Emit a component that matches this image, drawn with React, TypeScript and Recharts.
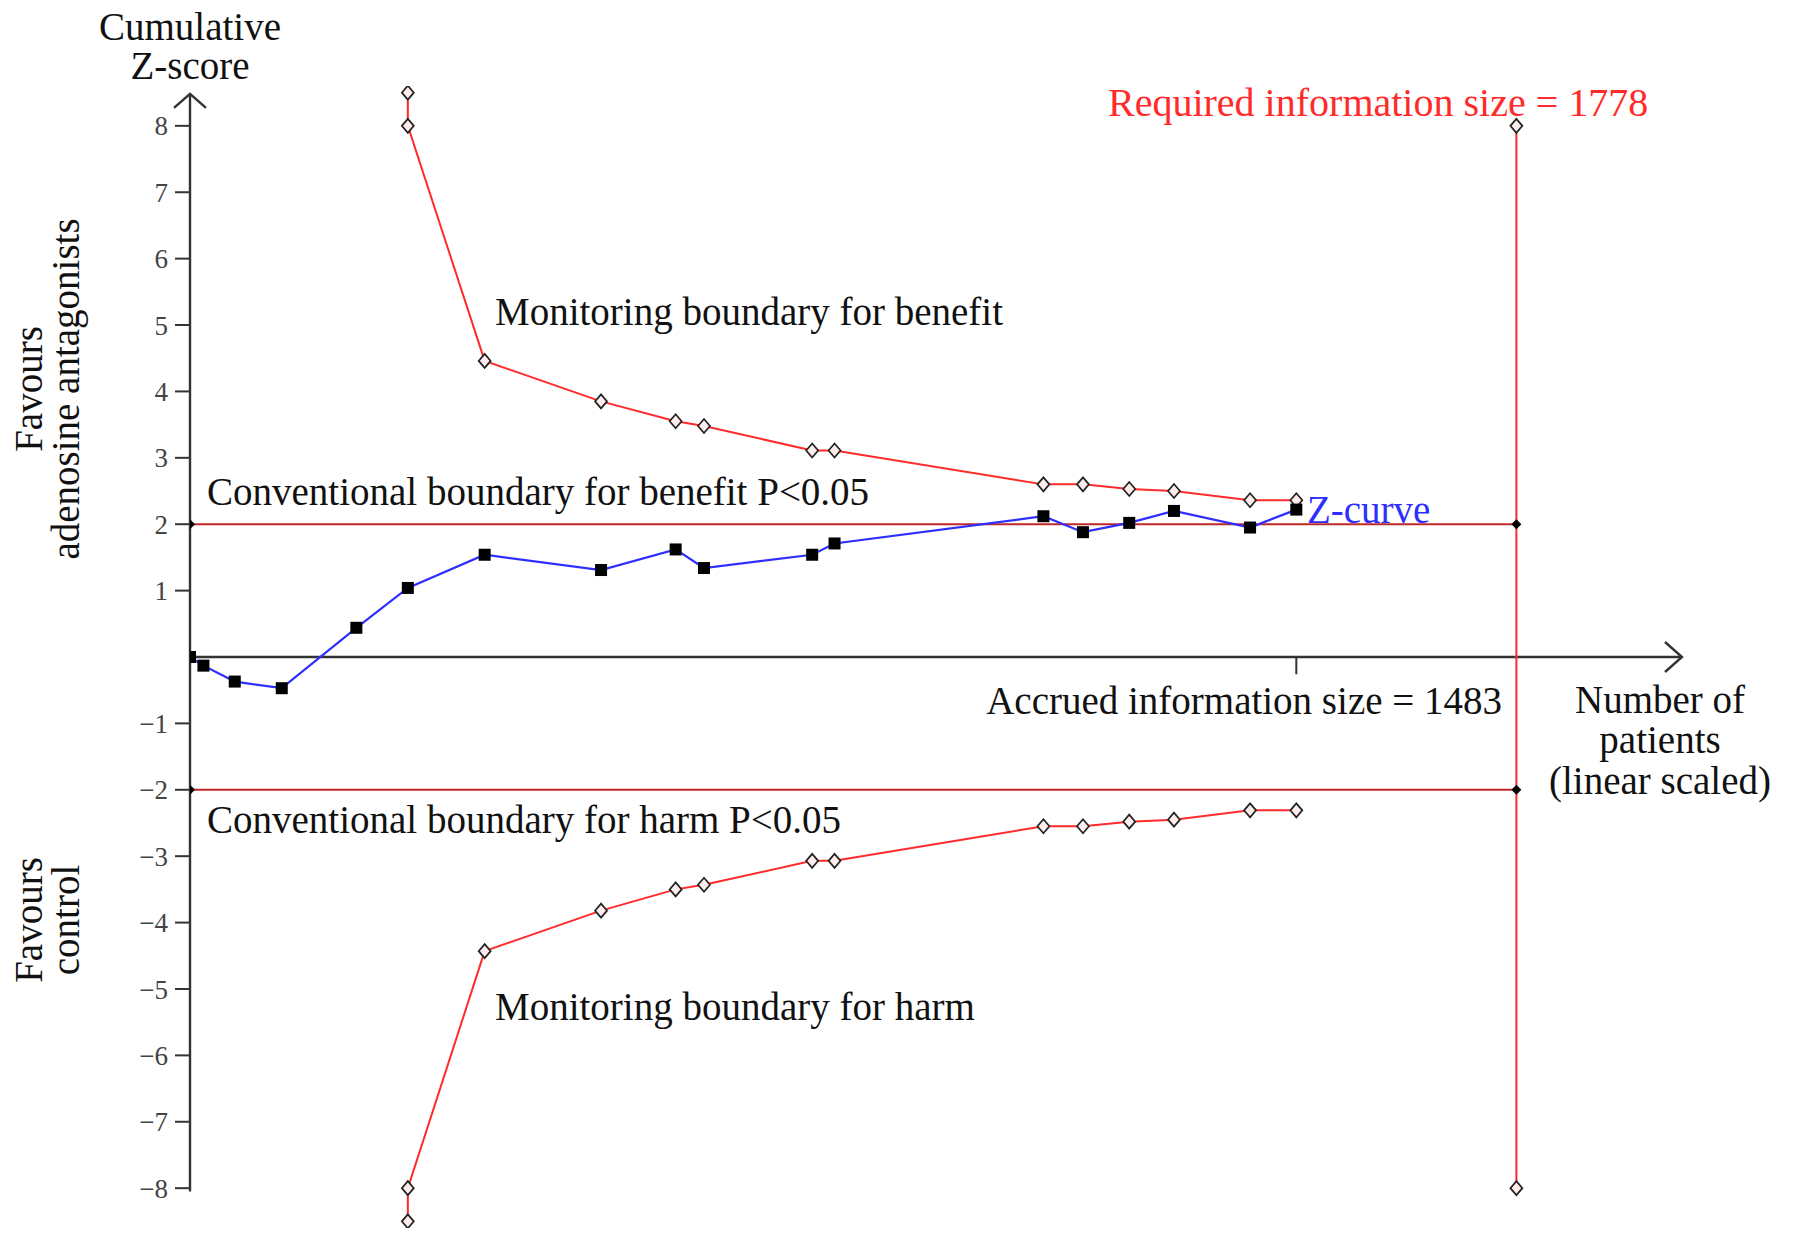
import React from "react";
import {
  ComposedChart,
  Line,
  XAxis,
  YAxis,
  ReferenceLine,
  ReferenceDot,
} from "recharts";

// cumulative Z-curve
const zPatients = [0, 18, 60, 123, 223, 292, 395, 551, 651, 689, 834, 864, 1144, 1197, 1259, 1319, 1421, 1483];
const zScores = [0, -0.13, -0.37, -0.47, 0.44, 1.04, 1.54, 1.31, 1.62, 1.34, 1.54, 1.71, 2.12, 1.88, 2.02, 2.2, 1.95, 2.22];

// trial sequential monitoring boundaries
const boundaryPatients = [292, 292, 395, 551, 651, 689, 834, 864, 1144, 1197, 1259, 1319, 1421, 1483];
const upperBoundary = [8.5, 8, 4.46, 3.85, 3.55, 3.48, 3.11, 3.11, 2.6, 2.6, 2.53, 2.5, 2.36, 2.36];
const lowerBoundary = [-8.5, -8, -4.43, -3.82, -3.5, -3.43, -3.07, -3.07, -2.55, -2.55, -2.48, -2.45, -2.31, -2.31];

// conventional boundaries and required information size
const conventionalPatients = [0, 1778];
const benefitLine = [2, 2];
const harmLine = [-2, -2];
const requiredPatients = [1778, 1778];
const requiredZ = [8, -8];

const yTicks = [-8, -7, -6, -5, -4, -3, -2, -1, 1, 2, 3, 4, 5, 6, 7, 8];
const accruedSize = 1483;
const xMax = 2000;

const toRows = (xs: number[], ys: number[]) => xs.map((n, i) => ({ n, z: ys[i] }));

const zCurve = toRows(zPatients, zScores);
const upper = toRows(boundaryPatients, upperBoundary);
const lower = toRows(boundaryPatients, lowerBoundary);
const benefit = toRows(conventionalPatients, benefitLine);
const harm = toRows(conventionalPatients, harmLine);
const required = toRows(requiredPatients, requiredZ);

const FONT = "'Liberation Serif', 'Times New Roman', serif";
const RED = "#ff2a2a";
const DARK_RED = "#c02828";
const BLUE = "#2e2eff";
const AXIS = "#333";

const OpenDiamond = (props: any) => {
  const { cx, cy, index } = props;
  if (cx == null || cy == null) return <g key={index} />;
  return (
    <path
      key={index}
      d={`M${cx},${cy - 7} L${cx + 6},${cy} L${cx},${cy + 7} L${cx - 6},${cy} Z`}
      fill="#ffecec"
      stroke="#222"
      strokeWidth={1.7}
    />
  );
};

const SolidDiamond = (props: any) => {
  const { cx, cy, index } = props;
  if (cx == null || cy == null) return <g key={index} />;
  return (
    <path
      key={index}
      d={`M${cx},${cy - 5} L${cx + 5},${cy} L${cx},${cy + 5} L${cx - 5},${cy} Z`}
      fill="#000"
    />
  );
};

const Square = (props: any) => {
  const { cx, cy, index } = props;
  if (cx == null || cy == null) return <g key={index} />;
  return <rect key={index} x={cx - 6} y={cy - 6} width={12} height={12} fill="#000" />;
};

const UpArrow = (props: any) => {
  const { cx, cy } = props;
  return (
    <path
      d={`M${cx - 16},${cy + 14} L${cx},${cy} L${cx + 16},${cy + 14}`}
      fill="none"
      stroke={AXIS}
      strokeWidth={2.4}
    />
  );
};

const RightArrow = (props: any) => {
  const { cx, cy } = props;
  return (
    <path
      d={`M${cx - 17},${cy - 15} L${cx},${cy} L${cx - 17},${cy + 15}`}
      fill="none"
      stroke={AXIS}
      strokeWidth={2.4}
    />
  );
};

const txt = { fontFamily: FONT, fontSize: 39, fill: "#111", dominantBaseline: "central" as const };

export default function App() {
  return (
    <div style={{ position: "relative", width: 1779, height: 1225 }}>
      <ComposedChart
        width={1779}
        height={1225}
        margin={{ top: 78, right: 105, bottom: 5, left: 122 }}
      >
        <XAxis type="number" dataKey="n" domain={[0, xMax]} hide allowDataOverflow />
        <YAxis
          type="number"
          dataKey="z"
          domain={[-8.6, 8.6]}
          ticks={yTicks}
          interval={0}
          width={60}
          axisLine={false}
          tickSize={15}
          tickMargin={7}
          tickLine={{ stroke: AXIS, strokeWidth: 2 }}
          tick={{ fontSize: 27, fill: "#444", fontFamily: FONT }}
          tickFormatter={(v: number) => String(v).replace("-", "\u2212")}
          allowDataOverflow
        />

        {/* axes drawn as arrows */}
        <ReferenceLine
          segment={[{ x: 0, y: -8.05 }, { x: 0, y: 8.48 }]}
          stroke={AXIS}
          strokeWidth={2.4}
          ifOverflow="visible"
        />
        <ReferenceLine
          segment={[{ x: 0, y: 0 }, { x: xMax, y: 0 }]}
          stroke={AXIS}
          strokeWidth={2.4}
          ifOverflow="visible"
        />
        <ReferenceLine
          segment={[{ x: accruedSize, y: 0 }, { x: accruedSize, y: -0.26 }]}
          stroke={AXIS}
          strokeWidth={2}
          ifOverflow="visible"
        />
        <ReferenceDot x={0} y={8.48} r={0} shape={UpArrow} ifOverflow="visible" />
        <ReferenceDot x={xMax} y={0} r={0} shape={RightArrow} ifOverflow="visible" />

        <Line
          data={required}
          dataKey="z"
          stroke={RED}
          strokeWidth={2}
          dot={OpenDiamond}
          activeDot={false}
          isAnimationActive={false}
        />
        <Line
          data={benefit}
          dataKey="z"
          stroke={DARK_RED}
          strokeWidth={2}
          dot={SolidDiamond}
          activeDot={false}
          isAnimationActive={false}
        />
        <Line
          data={harm}
          dataKey="z"
          stroke={DARK_RED}
          strokeWidth={2}
          dot={SolidDiamond}
          activeDot={false}
          isAnimationActive={false}
        />
        <Line
          data={upper}
          dataKey="z"
          stroke={RED}
          strokeWidth={2}
          dot={OpenDiamond}
          activeDot={false}
          isAnimationActive={false}
        />
        <Line
          data={lower}
          dataKey="z"
          stroke={RED}
          strokeWidth={2}
          dot={OpenDiamond}
          activeDot={false}
          isAnimationActive={false}
        />
        <Line
          data={zCurve}
          dataKey="z"
          stroke={BLUE}
          strokeWidth={2.2}
          dot={Square}
          activeDot={false}
          isAnimationActive={false}
        />
      </ComposedChart>

      <svg
        width={1779}
        height={1225}
        overflow="visible"
        style={{ position: "absolute", left: 0, top: 0, pointerEvents: "none", overflow: "visible" }}
      >
        <text {...txt} x={182} y={18} textAnchor="middle">Cumulative</text>
        <text {...txt} x={182} y={57} textAnchor="middle">Z-score</text>
        <text {...txt} x={1100} y={94} fill={RED} fontSize={40}>Required information size = 1778</text>
        <text {...txt} x={487} y={303}>Monitoring boundary for benefit</text>
        <text {...txt} x={199} y={483}>Conventional boundary for benefit P&lt;0.05</text>
        <text {...txt} x={1299} y={501} fill={BLUE}>Z-curve</text>
        <text {...txt} x={1494} y={692} textAnchor="end">Accrued information size = 1483</text>
        <text {...txt} x={1652} y={691} textAnchor="middle">Number of</text>
        <text {...txt} x={1652} y={731} textAnchor="middle">patients</text>
        <text {...txt} x={1652} y={772} textAnchor="middle">(linear scaled)</text>
        <text {...txt} x={199} y={811}>Conventional boundary for harm P&lt;0.05</text>
        <text {...txt} x={487} y={998}>Monitoring boundary for harm</text>
        <g transform="translate(20,381) rotate(-90)">
          <text {...txt} x={0} y={0} textAnchor="middle">Favours</text>
        </g>
        <g transform="translate(57,381) rotate(-90)">
          <text {...txt} x={0} y={0} textAnchor="middle">adenosine antagonists</text>
        </g>
        <g transform="translate(20,912) rotate(-90)">
          <text {...txt} x={0} y={0} textAnchor="middle">Favours</text>
        </g>
        <g transform="translate(57,912) rotate(-90)">
          <text {...txt} x={0} y={0} textAnchor="middle">control</text>
        </g>
      </svg>
    </div>
  );
}
